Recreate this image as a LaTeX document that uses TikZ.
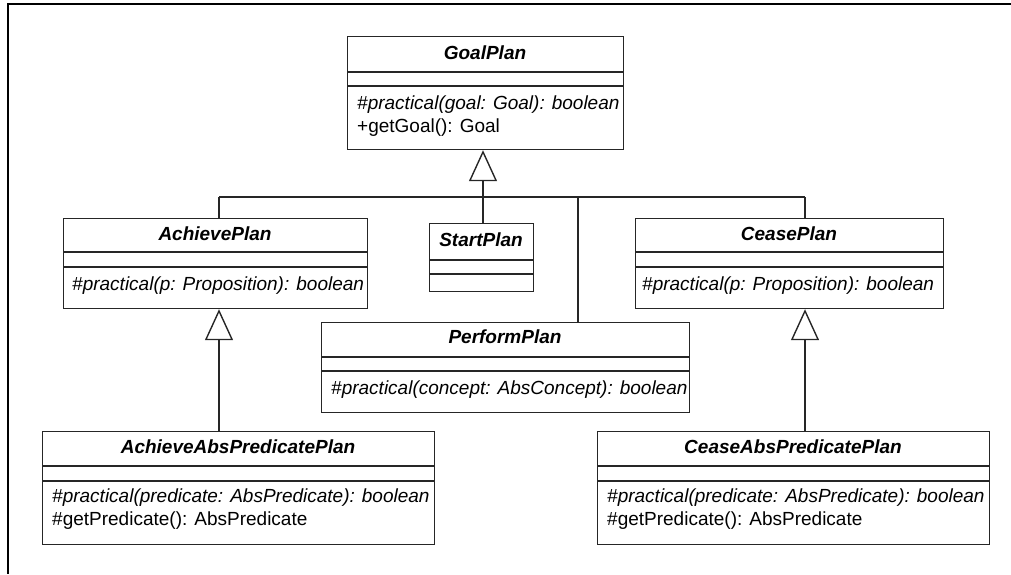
\documentclass[tikz,border=0pt]{standalone}
\usepackage{fontspec}
\setmainfont{Liberation Sans}
\usetikzlibrary{arrows.meta}
\tikzset{
  px/.style={x=1pt, y=-1pt},
  box/.style={draw=black!85, line width=1.2pt, inner sep=0pt, anchor=north west},
  div/.style={draw=black!85, line width=1.2pt},
  ctitle/.style={font=\fontsize{19}{22}\selectfont\bfseries\itshape, inner sep=0pt, anchor=base},
  member/.style={font=\fontsize{19}{23}\selectfont, inner sep=0pt, anchor=base west},
  conn/.style={draw=black!85, line width=1.4pt},
  gen/.style={conn, -{Triangle[open, length=31pt, width=28pt, line join=miter]}},
  frame/.style={draw=black, line width=2.6pt},
}
\newcommand\umlclass[7]{%
  \node[box, minimum width={(#4)-(#2)}, minimum height={(#5)-(#3)}] (#1) at (#2,#3) {};
  \draw[div] (#2,#6) -- (#4,#6);
  \draw[div] (#2,#7) -- (#4,#7);
}
\begin{document}
\begin{tikzpicture}[px]
\useasboundingbox (0,0) rectangle (1011,574);
% frame
\coordinate (ftl) at (8,4);
\coordinate (ftr) at (1011,4);
\coordinate (fbl) at (8,574);
\draw[frame] (ftr) -- (ftl) -- (fbl);

% GoalPlan
\umlclass{goal}{347}{36}{623}{149}{72}{86}
\node[ctitle] (goal-t) at (485,59) {GoalPlan};
\node[member] (goal-m1) at (357,109) {\itshape\#practical(goal: Goal): boolean};
\node[member] (goal-m2) at (357,132) {+getGoal(): Goal};

% AchievePlan
\umlclass{ach}{63}{218}{367}{308}{252}{267}
\node[ctitle] (ach-t) at (215,240) {AchievePlan};
\node[member] (ach-m1) at (72,290) {\itshape\#practical(p: Proposition): boolean};

% StartPlan
\umlclass{start}{429}{223}{533}{291}{260}{274}
\node[ctitle] (start-t) at (481,246) {StartPlan};

% CeasePlan
\umlclass{cease}{635}{218}{943}{308}{252}{267}
\node[ctitle] (cease-t) at (789,240) {CeasePlan};
\node[member] (cease-m1) at (642,290) {\itshape\#practical(p: Proposition): boolean};

% PerformPlan
\umlclass{perf}{321}{322}{689}{412}{357}{371}
\node[ctitle] (perf-t) at (505,343) {PerformPlan};
\node[member] (perf-m1) at (331,394) {\itshape\#practical(concept: AbsConcept): boolean};

% AchieveAbsPredicatePlan
\umlclass{achabs}{42}{431}{434}{544}{466}{481}
\node[ctitle] (achabs-t) at (238,453) {AchieveAbsPredicatePlan};
\node[member] (achabs-m1) at (52,502) {\itshape\#practical(predicate: AbsPredicate): boolean};
\node[member] (achabs-m2) at (52,525) {\#getPredicate(): AbsPredicate};

% CeaseAbsPredicatePlan
\umlclass{ceaseabs}{597}{431}{989}{544}{466}{481}
\node[ctitle] (ceaseabs-t) at (793,453) {CeaseAbsPredicatePlan};
\node[member] (ceaseabs-m1) at (607,502) {\itshape\#practical(predicate: AbsPredicate): boolean};
\node[member] (ceaseabs-m2) at (607,525) {\#getPredicate(): AbsPredicate};

% connectors
\coordinate (j) at (483,197);
\coordinate (jA) at (219,197);
\coordinate (jP) at (578,197);
\coordinate (jC) at (805,197);
\draw[conn] (jA) -- (jC);
\draw[conn] (jA) -- (jA |- ach.north);
\draw[conn] (jP) -- (jP |- perf.north);
\draw[conn] (jC) -- (jC |- cease.north);
\draw[conn] (j) -- (j |- start.north);
\draw[gen] (j) -- (j |- goal.south);

\coordinate (a1) at (219,431);
\draw[gen] (a1 |- achabs.north) -- (a1 |- ach.south);
\coordinate (c1) at (805,431);
\draw[gen] (c1 |- ceaseabs.north) -- (c1 |- cease.south);
\end{tikzpicture}
\end{document}
